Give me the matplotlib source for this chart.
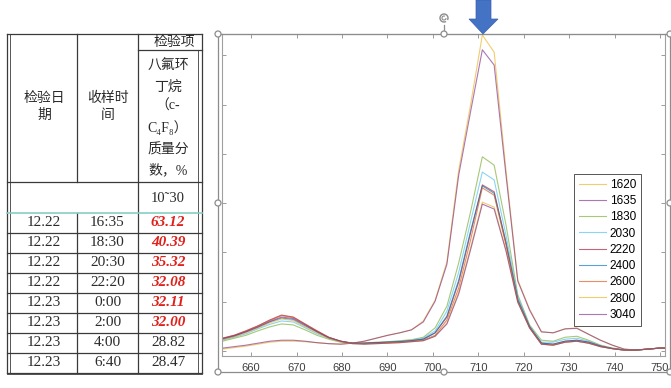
"""
c-C4F8 sampling table + absorbance spectra overlay (screenshot recreation).
Output: out.png (671x388)
"""

import matplotlib

matplotlib.use("Agg")
import matplotlib.pyplot as plt
from matplotlib.patches import Arc, Circle, Polygon

# ──────────────────────────────────────────────
# 1.  DATA
# ──────────────────────────────────────────────
# table on the left
DATES = ["12.22", "12.22", "12.22", "12.22", "12.23", "12.23", "12.23", "12.23"]
TIMES = ["16:35", "18:30", "20:30", "22:20", "0:00", "2:00", "4:00", "6:40"]
MASS_FRACTION = ["63.12", "40.39", "35.32", "32.08", "32.11", "32.00", "28.82", "28.47"]
LIMIT = 30.0

# spectra (x = wavelength, y in tick units)
WAVELENGTH = [
    653.7, 656.3, 658.9, 661.5, 664.1, 666.7, 669.3, 671.9, 674.5, 677.1,
    679.7, 682.3, 684.9, 687.5, 690.1, 692.7, 695.3, 697.9, 700.5, 703.1,
    705.7, 708.3, 710.9, 713.5, 716.1, 718.7, 721.3, 723.9, 726.5, 729.1,
    731.7, 734.3, 736.9, 739.5, 742.1, 744.7, 747.3, 749.9, 752.5,
]
SERIES_NAMES = ["1620", "1635", "1830", "2030", "2220", "2400", "2600", "2800", "3040"]

s1620 = [0.04, 0.07, 0.10, 0.14, 0.18, 0.20, 0.20, 0.19, 0.17, 0.15,
         0.14, 0.16, 0.20, 0.26, 0.32, 0.37, 0.43, 0.61, 1.03, 1.81,
         3.67, 4.99, 6.41, 6.06, 3.67, 1.44, 0.85, 0.39, 0.37, 0.45,
         0.47, 0.34, 0.22, 0.12, 0.04, 0.02, 0.04, 0.06, 0.06]
s1635 = [0.06, 0.09, 0.12, 0.16, 0.20, 0.22, 0.22, 0.20, 0.17, 0.15,
         0.14, 0.16, 0.20, 0.26, 0.32, 0.37, 0.43, 0.59, 1.01, 1.76,
         3.57, 4.85, 6.11, 5.80, 3.57, 1.42, 0.83, 0.39, 0.37, 0.45,
         0.46, 0.34, 0.22, 0.12, 0.04, 0.02, 0.04, 0.06, 0.06]
s1830 = [0.20, 0.26, 0.32, 0.41, 0.49, 0.55, 0.53, 0.43, 0.32, 0.24,
         0.18, 0.16, 0.16, 0.18, 0.19, 0.21, 0.23, 0.28, 0.47, 0.91,
         1.79, 2.82, 3.94, 3.77, 2.56, 1.14, 0.53, 0.22, 0.20, 0.28,
         0.30, 0.22, 0.12, 0.06, 0.03, 0.02, 0.04, 0.06, 0.06]
s2030 = [0.22, 0.28, 0.35, 0.45, 0.54, 0.61, 0.59, 0.47, 0.35, 0.26,
         0.19, 0.16, 0.16, 0.17, 0.18, 0.20, 0.22, 0.26, 0.41, 0.81,
         1.60, 2.62, 3.63, 3.47, 2.35, 1.10, 0.51, 0.18, 0.18, 0.24,
         0.26, 0.20, 0.11, 0.06, 0.03, 0.02, 0.04, 0.06, 0.06]
s2220 = [0.26, 0.32, 0.41, 0.51, 0.63, 0.73, 0.69, 0.55, 0.41, 0.28,
         0.20, 0.16, 0.16, 0.17, 0.18, 0.19, 0.21, 0.24, 0.37, 0.69,
         1.40, 2.39, 3.37, 3.23, 2.19, 1.03, 0.49, 0.16, 0.14, 0.20,
         0.22, 0.18, 0.10, 0.05, 0.02, 0.02, 0.04, 0.06, 0.06]
s2400 = [0.24, 0.30, 0.39, 0.48, 0.59, 0.67, 0.64, 0.51, 0.39, 0.27,
         0.20, 0.16, 0.16, 0.17, 0.18, 0.19, 0.21, 0.24, 0.37, 0.71,
         1.44, 2.43, 3.35, 3.20, 2.21, 1.05, 0.49, 0.16, 0.14, 0.20,
         0.22, 0.18, 0.10, 0.05, 0.02, 0.02, 0.04, 0.06, 0.06]
s2600 = [0.26, 0.32, 0.41, 0.51, 0.62, 0.72, 0.68, 0.54, 0.41, 0.28,
         0.20, 0.16, 0.15, 0.16, 0.17, 0.18, 0.20, 0.22, 0.32, 0.63,
         1.28, 2.25, 3.31, 3.16, 2.15, 1.01, 0.47, 0.14, 0.12, 0.18,
         0.20, 0.16, 0.09, 0.05, 0.02, 0.02, 0.04, 0.06, 0.06]
s2800 = [0.23, 0.29, 0.37, 0.47, 0.57, 0.65, 0.62, 0.49, 0.37, 0.26,
         0.19, 0.15, 0.14, 0.15, 0.16, 0.17, 0.19, 0.21, 0.30, 0.57,
         1.20, 2.09, 3.02, 2.92, 2.05, 0.99, 0.47, 0.14, 0.12, 0.18,
         0.20, 0.16, 0.09, 0.05, 0.02, 0.02, 0.04, 0.06, 0.06]
s3040 = [0.25, 0.31, 0.39, 0.49, 0.60, 0.69, 0.66, 0.53, 0.39, 0.27,
         0.20, 0.15, 0.14, 0.15, 0.16, 0.17, 0.19, 0.21, 0.30, 0.55,
         1.16, 2.05, 2.98, 2.88, 2.03, 0.99, 0.47, 0.14, 0.12, 0.18,
         0.20, 0.16, 0.09, 0.05, 0.02, 0.02, 0.04, 0.06, 0.06]
SERIES = [s1620, s1635, s1830, s2030, s2220, s2400, s2600, s2800, s3040]

# MATLAB default line order, as it shows up in the legend
COLORS = ["#EDB120", "#7E2F8E", "#77AC30", "#4DBEEE", "#A2142F",
          "#0072BD", "#D95319", "#EDB120", "#7E2F8E"]

# ──────────────────────────────────────────────
# 2.  LAYOUT (pixels of the 671x388 screenshot)
# ──────────────────────────────────────────────
W, H = 671, 388
AX_LEFT, AX_RIGHT, AX_TOP, AX_BOTTOM = 222, 665, 34, 356

TAB_COLS = [7, 77, 138, 202]
TAB_HEAD = [34, 50, 182, 213]
ROW_H = 20

TABLE_FONT = ["Liberation Serif", "Noto Sans CJK SC", "DejaVu Serif"]
TEXT_DARK = "#2b2b2b"
LINE_DARK = "#3a3a3a"


def draw_table(ov):
    x0, c1, c2, x1 = TAB_COLS
    top, sub, head_bot, lim_bot = TAB_HEAD
    rows_y = [lim_bot + ROW_H * k for k in range(len(DATES) + 1)]
    bottom = rows_y[-1]
    kw = dict(color=LINE_DARK, lw=0.9)

    # frame and grid
    ov.plot([x0, x0], [top, bottom], **kw)
    ov.plot([x0 + 3, x0 + 3], [top, bottom], color=LINE_DARK, lw=0.6)
    ov.plot([x1, x1], [top, bottom], **kw)
    ov.plot([x1 - 4, x1 - 4], [sub, bottom], color=LINE_DARK, lw=0.6)
    ov.plot([c1, c1], [top, head_bot], **kw)
    ov.plot([c1, c1], [lim_bot, bottom], **kw)
    ov.plot([c2, c2], [top, bottom], **kw)
    ov.plot([x0, x1], [top, top], **kw)
    ov.plot([c2, x1], [sub, sub], **kw)
    ov.plot([x0, x1], [head_bot, head_bot], **kw)
    ov.plot([x0, x1], [lim_bot, lim_bot], color="#86cfc0", lw=1.2)
    for y in rows_y[1:]:
        ov.plot([x0, x1], [y, y], **kw)
    ov.plot([x0, x1], [bottom + 1, bottom + 1], color=LINE_DARK, lw=0.6)

    # header text
    txt = dict(family=TABLE_FONT, color=TEXT_DARK, ha="center", va="center")
    ov.text((x0 + c1) / 2 + 2, 107, "检验日\n期", fontsize=10, linespacing=1.45, **txt)
    ov.text((c1 + c2) / 2, 107, "收样时\n间", fontsize=10, linespacing=1.45, **txt)
    ov.text(174, 42, "检验项", fontsize=10, **txt)
    col3 = (c2 + x1 - 4) / 2
    head_lines = ["八氟环", "丁烷", "（c-", "C₄F₈）", "质量分", "数，%"]
    head_y = [66, 87, 106, 128, 150, 170]
    for s, y in zip(head_lines, head_y):
        ov.text(col3, y, s, fontsize=10, **txt)
    ov.text(col3, 198, f"10˜{LIMIT:.0f}", fontsize=10.5, **txt)

    # body
    for k, (d, t, v) in enumerate(zip(DATES, TIMES, MASS_FRACTION)):
        yc = rows_y[k] + ROW_H / 2
        ov.text((x0 + c1) / 2 + 2, yc, d, fontsize=11, **txt)
        ov.text((c1 + c2) / 2, yc, t, fontsize=11, **txt)
        over = float(v) > LIMIT
        ov.text(col3, yc, v, fontsize=11,
                family=TABLE_FONT, ha="center", va="center",
                color="#e0201a" if over else TEXT_DARK,
                weight="bold" if over else "normal",
                style="italic" if over else "normal")


def draw_selection(ov):
    """PowerPoint style selection frame, handles, rotate icon and arrow."""
    l, r, t, b = 218, 670, 34, 372
    grey = "#8c8c8c"
    ov.plot([l, r, r, l, l], [t, t, b, b, t], color=grey, lw=0.9)
    mx, my = (l + r) / 2, (t + b) / 2
    ov.plot([mx, mx], [t, t - 9], color=grey, lw=0.9)
    ov.add_patch(Arc((mx, t - 16), 8, 8, theta1=60, theta2=390, color=grey, lw=1.0))
    ov.add_patch(Arc((mx, t - 16), 4, 4, theta1=0, theta2=300, color=grey, lw=0.8))
    for hx, hy in [(l, t), (mx, t), (r, t), (l, my), (r, my), (l, b), (mx, b), (r, b)]:
        ov.add_patch(Circle((hx, hy), 3, facecolor="white", edgecolor=grey, lw=0.9, zorder=5))

    ov.add_patch(Polygon(
        [(476, 0), (491, 0), (491, 19), (498, 19), (483, 34), (469, 19), (476, 19)],
        closed=True, facecolor="#4472C4", edgecolor="#3a62ad", lw=0.5, zorder=6))


def draw_spectra(fig):
    ax = fig.add_axes([AX_LEFT / W, 1 - AX_BOTTOM / H,
                       (AX_RIGHT - AX_LEFT) / W, (AX_BOTTOM - AX_TOP) / H])
    for name, ys, c in zip(SERIES_NAMES, SERIES, COLORS):
        ax.plot(WAVELENGTH, ys, color=c, lw=0.8, alpha=0.65, label=name)

    ax.set_xlim(653.6, 751.1)
    ax.set_ylim(-0.10, 6.43)
    ax.set_xticks(range(660, 751, 10))
    ax.set_yticks(range(0, 7))
    ax.set_yticklabels([])
    ax.tick_params(direction="in", length=3, width=0.6, colors="#8a8a8a",
                   top=True, right=True, labelsize=8, labelcolor="#404040", pad=5)
    for lab in ax.get_xticklabels():
        lab.set_family("Liberation Sans")
    for sp in ax.spines.values():
        sp.set_color("#a0a0a0")
        sp.set_linewidth(0.8)

    leg = ax.legend(loc="upper left", bbox_to_anchor=(0.795, 0.565),
                    borderaxespad=0, fancybox=False, framealpha=1,
                    prop={"family": "Liberation Sans", "size": 8.5},
                    handlelength=2.3, handletextpad=0.3, labelspacing=0.36,
                    borderpad=0.4)
    leg.get_frame().set_edgecolor("#3a3a3a")
    leg.get_frame().set_linewidth(0.6)
    return ax


def main():
    fig = plt.figure(figsize=(W / 100, H / 100), dpi=100)
    draw_spectra(fig)

    ov = fig.add_axes([0, 0, 1, 1], zorder=10)
    ov.set_xlim(0, W)
    ov.set_ylim(H, 0)
    ov.axis("off")
    draw_table(ov)
    draw_selection(ov)

    fig.savefig("out.png", dpi=100)
    plt.close(fig)


if __name__ == "__main__":
    main()
